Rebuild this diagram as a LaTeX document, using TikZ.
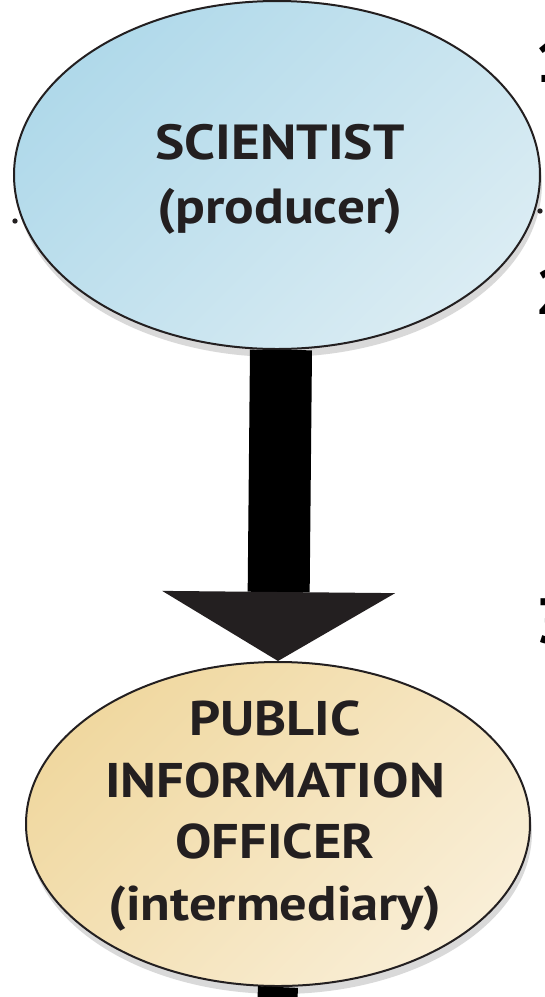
\documentclass[tikz,border=0pt]{standalone}
\usepackage{fontspec}
\setmainfont{PT Sans}
\newfontfamily\widesans[FakeStretch=1.12]{PT Sans}
\usetikzlibrary{shapes.geometric,shadows,arrows.meta}

\definecolor{sciblueA}{RGB}{176,217,234}
\definecolor{sciblueB}{RGB}{218,236,243}
\definecolor{piotanA}{RGB}{240,216,160}
\definecolor{piotanB}{RGB}{249,238,214}
\definecolor{inkdark}{RGB}{35,31,32}

\tikzset{
  bubble/.style={ellipse, draw=inkdark, line width=1.5pt, inner sep=0pt,
    drop shadow={shadow xshift=1.5pt, shadow yshift=-6pt, fill=black!25, opacity=0.6}},
  bubbletext/.style={align=center, text=inkdark, inner sep=0pt},
  bigarrow/.style={draw=black, line width=46.5pt,
    -{Triangle[length=51.75pt, width=174.75pt, line width=0pt, color=inkdark]}},
  stub/.style={circle, fill=inkdark, inner sep=0pt, minimum size=4pt},
  numtag/.style={inner sep=0pt, text=black, font=\fontsize{48}{48}\selectfont\bfseries}
}

\begin{document}
\begin{tikzpicture}[x=0.75pt,y=0.75pt,yscale=-1,xscale=1]
\useasboundingbox (0,0) rectangle (544,997);
\clip (0,0) rectangle (544,997);

%Shape: Ellipse [scientist]
\node [bubble, minimum width=394.5pt, minimum height=261pt,
  top color=sciblueA, bottom color=sciblueB, shading angle=45] (sci) at (277,175) {};
%Shape: Ellipse [information officer]
\node [bubble, minimum width=378pt, minimum height=243pt,
  top color=piotanA, bottom color=piotanB, shading angle=45] (pio) at (278,824) {};

%Straight Lines [arrow down]
\draw [bigarrow] ([xshift=3pt]sci.south) -- (pio.north) ;
%Straight Lines [stub below]
\coordinate (pioexit) at (277,1010);
\draw [line width=30pt] (pio.south) -- (pioexit) ;

%Shape: Circle
\node [stub] (sciL) at (15,221) {};
%Shape: Circle
\node [stub] (sciR) at (540,211) {};

% Text Node
\node [bubbletext, font=\widesans\fontsize{37}{48}\selectfont\bfseries] (scitext) at (280,179)
  {SCIENTIST\\(producer)};
% Text Node
\node [bubbletext, font=\widesans\fontsize{36.5}{46.3}\selectfont\bfseries] (piotext) at (275,816)
  {PUBLIC\\INFORMATION\\OFFICER\\(intermediary)};

% Text Node
\node [numtag, anchor=base west] (num1) at (535,82) {1};
% Text Node
\node [numtag, anchor=base west] (num2) at (535,314) {2};
% Text Node
\node [numtag, anchor=base west] (num3) at (535,643) {3};

\end{tikzpicture}
\end{document}
